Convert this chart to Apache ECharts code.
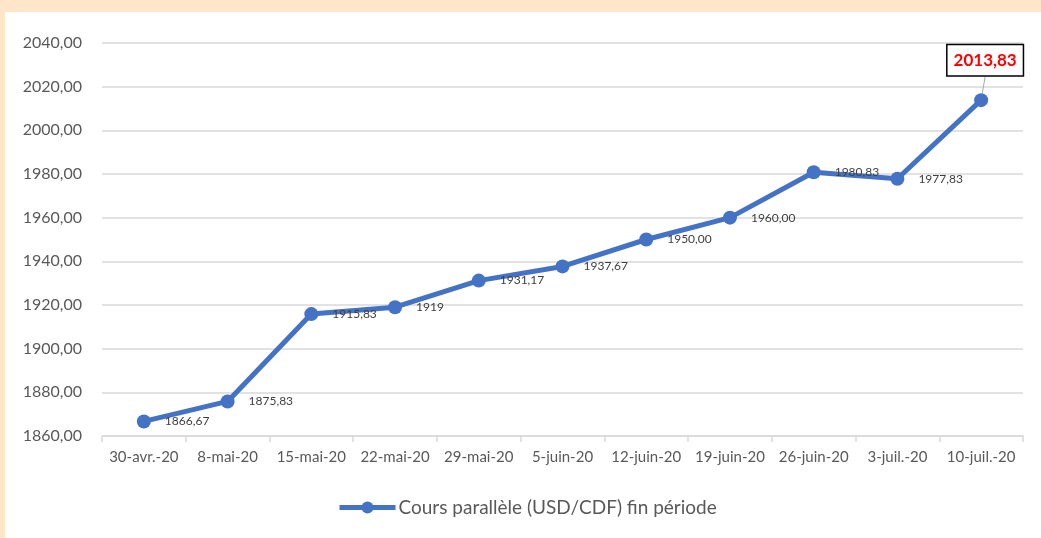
<!DOCTYPE html>
<html>
<head>
<meta charset="UTF-8">
<title>Cours parallèle</title>
<script src="https://cdn.jsdelivr.net/npm/echarts@6/dist/echarts.min.js"></script>
<style>
  html, body { margin: 0; padding: 0; background: #FFE6C9; }
  #main { position: absolute; left: 5px; top: 12px; width: 1036px; height: 526px; background: #fff; }
</style>
</head>
<body>
<div id="main"></div>
<script>
// donnees
var dates = ['30-avr.-20', '8-mai-20', '15-mai-20', '22-mai-20', '29-mai-20', '5-juin-20',
             '12-juin-20', '19-juin-20', '26-juin-20', '3-juil.-20', '10-juil.-20'];
var cours = [1866.67, 1875.83, 1915.83, 1919, 1931.17, 1937.67, 1950.00, 1960.00, 1980.83, 1977.83, 2013.83];
var etiquettes = ['1866,67', '1875,83', '1915,83', '1919', '1931,17', '1937,67',
                  '1950,00', '1960,00', '1980,83', '1977,83', '2013,83'];
var nomSerie = 'Cours parallèle (USD/CDF) fin période';

var police = 'Lato, "Open Sans", sans-serif';
var last = cours.length - 1;

var seriesData = cours.map(function (v, i) {
    if (i === last) {
        return {
            value: v,
            label: {
                position: 'top',
                color: '#FF0000',
                fontSize: 17,
                fontWeight: 'bold',
                backgroundColor: '#fff',
                borderColor: '#000',
                borderWidth: 1.5,
                padding: [7, 6, 6, 6]
            },
            labelLine: { show: true, lineStyle: { color: '#a6a6a6', width: 1 } }
        };
    }
    return v;
});

var myChart = echarts.init(document.getElementById('main'));
var option = {
    animation: false,
    grid: { left: 97, right: 18, top: 31, bottom: 102 },
    xAxis: {
        type: 'category',
        data: dates,
        boundaryGap: true,
        axisLine: { lineStyle: { color: '#d9d9d9', width: 1.5 } },
        axisTick: { show: true, length: 6, lineStyle: { color: '#d9d9d9', width: 1.5 } },
        axisLabel: { color: '#595959', fontSize: 15, fontFamily: police, margin: 14, interval: 0 }
    },
    yAxis: {
        type: 'value',
        min: 1860,
        max: 2040,
        interval: 20,
        axisLine: { show: false },
        axisTick: { show: false },
        splitLine: { lineStyle: { color: '#d9d9d9', width: 1.5 } },
        axisLabel: {
            color: '#595959', fontSize: 16, fontFamily: police, margin: 20,
            formatter: function (v) { return v.toFixed(2).replace('.', ','); }
        }
    },
    legend: {
        bottom: 16,
        left: 327,
        itemWidth: 56,
        itemHeight: 15,
        itemGap: 4,
        lineStyle: { width: 5 },
        textStyle: { color: '#595959', fontSize: 19, fontFamily: police, padding: [0, 0, 0, -2] },
        data: [nomSerie]
    },
    series: [{
        name: nomSerie,
        type: 'line',
        data: seriesData,
        symbol: 'circle',
        symbolSize: 14,
        lineStyle: { color: '#4472C4', width: 5 },
        itemStyle: { color: '#4472C4' },
        label: {
            show: true,
            position: 'right',
            distance: 14,
            offset: [0, 3],
            color: '#404040',
            fontSize: 12,
            fontFamily: police,
            formatter: function (p) { return etiquettes[p.dataIndex]; }
        },
        labelLayout: function (p) {
            if (p.dataIndex === last) {
                return { dx: 4, dy: -4 };
            }
        }
    }]
};
myChart.setOption(option);
</script>
</body>
</html>
